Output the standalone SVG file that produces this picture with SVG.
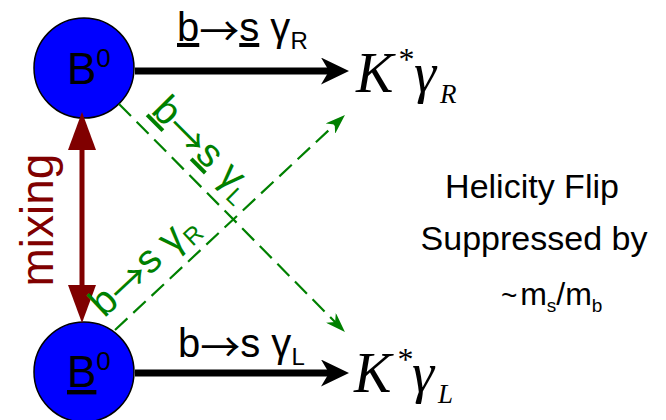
<svg xmlns="http://www.w3.org/2000/svg" width="666" height="420" viewBox="0 0 666 420">
<style>
.sans{font-family:"Liberation Sans",Arial,sans-serif;}
.arr{font-family:"Noto Sans CJK SC",sans-serif;}
.kg{font-family:"Liberation Serif","Times New Roman",serif;font-style:italic;fill:#000;}
.node{fill:#0000ff;stroke:#000;stroke-width:1.5;}
.blk{stroke:#000;stroke-width:7;fill:none;}
.grn{stroke:#008000;stroke-width:2.2;fill:none;stroke-dasharray:17 8;}
.mix{stroke:#800000;stroke-width:5;fill:none;}
.ul{text-decoration:underline;}
.lbl{font-size:40px;fill:#000;}
.glbl{font-size:40px;fill:#008000;}
.note{font-size:34px;fill:#000;}
</style>
<defs>
<marker id="ahB" markerUnits="userSpaceOnUse" markerWidth="28" markerHeight="27" viewBox="0 0 28 27" refX="12" refY="13.5" orient="auto"><path d="M0,0 L28,13.5 L0,27 L8,13.5 Z" fill="#000"/></marker>
<marker id="ahG" markerUnits="userSpaceOnUse" markerWidth="20" markerHeight="14" viewBox="0 0 20 14" refX="8" refY="7" orient="auto"><path d="M0,0 L20,7 L0,14 L6,7 Z" fill="#008000"/></marker>
<marker id="ahM" markerUnits="userSpaceOnUse" markerWidth="38" markerHeight="28" viewBox="0 0 38 28" refX="2" refY="14" orient="auto-start-reverse"><path d="M0,0 L38,14 L0,28 Z" fill="#800000"/></marker>
</defs>

<g id="B0">
<circle class="node" cx="84" cy="68" r="50"/>
<text class="sans" x="67" y="84" font-size="44">B<tspan font-size="26" dy="-17">0</tspan></text>
</g>
<g id="B0bar">
<circle class="node" cx="84" cy="372" r="50"/>
<text class="sans" x="67" y="387" font-size="44"><tspan class="ul">B</tspan><tspan font-size="26" dy="-17">0</tspan></text>
</g>
<g id="KgR">
<text class="kg" x="356" y="92" font-size="56">K</text>
<text class="kg" x="397" y="70" font-size="32">*</text>
<text class="kg" x="414" y="92" font-size="56">γ</text>
<text class="kg" x="440" y="103" font-size="27">R</text>
</g>
<g id="KgL">
<text class="kg" x="354" y="392" font-size="56">K</text>
<text class="kg" x="396" y="370" font-size="32">*</text>
<text class="kg" x="412" y="392" font-size="56">γ</text>
<text class="kg" x="438" y="403" font-size="27">L</text>
</g>
<g id="note" class="sans note" text-anchor="middle">
<text x="532" y="198">Helicity Flip</text>
<text x="534" y="250">Suppressed by</text>
<text x="501" y="305" text-anchor="start" font-size="32"><tspan font-size="28">~</tspan><tspan font-size="10"> </tspan>m<tspan font-size="19" dy="7">s</tspan><tspan dy="-7">/m</tspan><tspan font-size="19" dy="7">b</tspan></text>
</g>

<g id="connectors">
<line class="blk" x1="135" y1="71" x2="333" y2="71" marker-end="url(#ahB)"/>
<line class="blk" x1="135" y1="373" x2="333" y2="373" marker-end="url(#ahB)"/>
<line class="grn" x1="119" y1="104" x2="336.5" y2="323.5" marker-end="url(#ahG)"/>
<line class="grn" x1="115" y1="330" x2="336.2" y2="123.2" marker-end="url(#ahG)"/>
<line class="mix" x1="82" y1="148" x2="82" y2="287" marker-start="url(#ahM)" marker-end="url(#ahM)"/>
</g>

<g id="labels" class="sans">
<text class="lbl" x="177" y="41"><tspan class="ul">b</tspan><tspan class="arr" dy="5">→</tspan><tspan class="ul" dy="-5">s</tspan> γ<tspan font-size="24" dy="8">R</tspan></text>
<text class="lbl" x="178" y="357">b<tspan class="arr" dy="5">→</tspan><tspan dy="-5">s γ</tspan><tspan font-size="24" dy="8">L</tspan></text>
<text class="glbl" transform="translate(150,112) rotate(45)"><tspan class="ul">b</tspan><tspan class="arr" dy="5">→</tspan><tspan class="ul" dy="-5">s</tspan> γ<tspan font-size="24" dy="8">L</tspan></text>
<text class="glbl" transform="translate(104.3,318.6) rotate(-43.07)">b<tspan class="arr" dy="5">→</tspan><tspan dy="-5">s γ</tspan><tspan font-size="24" dy="8">R</tspan></text>
<text font-size="46" fill="#800000" text-anchor="middle" transform="translate(53,220) rotate(-90)">mixing</text>
</g>
</svg>
